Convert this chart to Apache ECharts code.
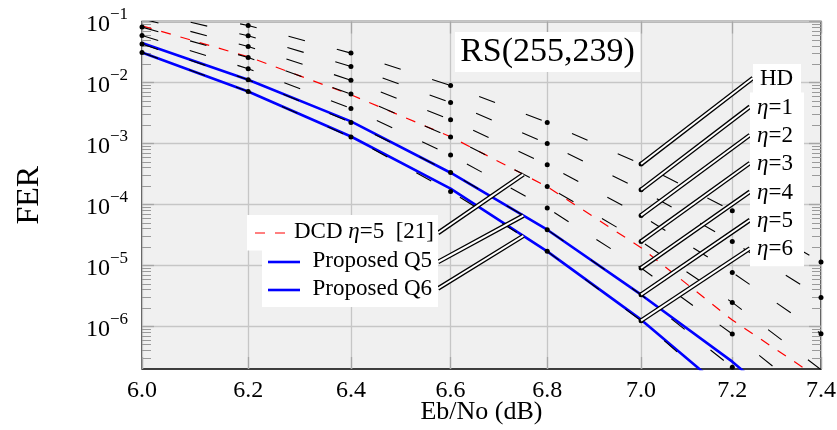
<!DOCTYPE html>
<html><head><meta charset="utf-8">
<script src="https://cdn.jsdelivr.net/npm/echarts@6/dist/echarts.min.js"></script>
<style>html,body{margin:0;padding:0;background:#fff}#c{width:837px;height:430px}</style>
</head><body><div id="c"></div>
<script>
// ---- data ----
const xValues = [6.0, 6.2, 6.4, 6.6, 6.8, 7.0, 7.2, 7.4];
const xTickLabels = ['6.0', '6.2', '6.4', '6.6', '6.8', '7.0', '7.2', '7.4'];
const yTickValues = [1e-6, 1e-5, 1e-4, 1e-3, 1e-2, 1e-1];
const yTickExponents = ['−6', '−5', '−4', '−3', '−2', '−1'];

const hd   = [0.19, 0.0860, 0.0303, 8.93e-3, 2.21e-3, 4.59e-4, 7.88e-5, 1.14e-5];
const eta1 = [0.15, 0.0583, 0.0183, 4.70e-3, 1.00e-3, 1.74e-4, 2.47e-5, 2.99e-6];
const eta2 = [0.111, 0.0389, 0.0109, 2.45e-3, 4.48e-4, 6.61e-5, 7.67e-6, 7.59e-7];
const eta3 = [0.0809, 0.0257, 6.46e-3, 1.27e-3, 1.97e-4, 2.47e-5, 2.47e-6, 1.95e-7];
const eta4 = [0.0589, 0.0168, 3.75e-3, 6.46e-4, 8.73e-5, 9.06e-6, 7.50e-7, 5.2e-8];
const eta5 = [0.0427, 0.0111, 2.21e-3, 3.35e-4, 3.85e-5, 3.31e-6, 2.13e-7, 1.15e-8];
const eta6 = [0.0310, 7.12e-3, 1.27e-3, 1.63e-4, 1.70e-5, 1.24e-6, 6.3e-8];
const dcd  = [0.0851, 0.0264, 6.28e-3, 1.29e-3, 1.95e-4, 1.95e-5, 1.27e-6, 1.34e-7];
const q5   = [0.0443, 0.0111, 2.30e-3, 3.31e-4, 3.85e-5, 3.31e-6, 2.64e-7, 1.5e-8];
const q6   = [0.0310, 7.12e-3, 1.30e-3, 1.81e-4, 1.70e-5, 1.29e-6, 7e-8];

const etaNames = ['HD', 'η=1', 'η=2', 'η=3', 'η=4', 'η=5', 'η=6'];
const etaSeries = [hd, eta1, eta2, eta3, eta4, eta5, eta6];
const legendNames = ['DCD η=5 [21]', 'Proposed Q5', 'Proposed Q6'];
const pinX = 7.0;       // curve labels point at this Eb/No
const legendPinX = 6.75; // legend entries point at this Eb/No

// ---- helpers ----
const FONT = 'Liberation Serif';
const pairs = arr => arr.map((v, i) => [xValues[i], v]);
function valueAt(arr, x) { // straight segment in log-log space (same as drawn)
  for (let i = 0; i < arr.length - 1; i++) {
    if (x >= xValues[i] && x <= xValues[i + 1]) {
      const t = (Math.log(x) - Math.log(xValues[i])) / (Math.log(xValues[i + 1]) - Math.log(xValues[i]));
      return Math.exp(Math.log(arr[i]) + t * (Math.log(arr[i + 1]) - Math.log(arr[i])));
    }
  }
  return arr[arr.length - 1];
}
const minorValues = [];
for (let e = -7; e <= -2; e++) for (let m = 2; m <= 9; m++) {
  const v = m * Math.pow(10, e);
  if (v > 2.01e-7 && v < 0.1) minorValues.push(v);
}

const chart = echarts.init(document.getElementById('c'), null, {renderer: 'canvas'});

const tickGrey = '#a6a6a6';
const gridGrey = '#c6c6c6';
function xAxisDef(pos, labels) {
  return {
    type: 'log', logBase: 10, min: 6.0, max: 7.4, position: pos, gridIndex: 0,
    axisLine: {show: false},
    axisTick: {show: true, inside: true, length: 12, customValues: xValues, lineStyle: {color: tickGrey, width: 1.3}},
    axisLabel: labels ? {
      show: true, customValues: xValues, margin: 10, color: '#000', fontFamily: FONT, fontSize: 24,
      formatter: v => { const i = xValues.findIndex(x => Math.abs(x - v) < 1e-6); return i >= 0 ? xTickLabels[i] : ''; }
    } : {show: false},
    splitLine: {show: labels, lineStyle: {color: gridGrey, width: 1.3}},
    name: labels ? 'Eb/No (dB)' : '', nameLocation: 'middle', nameGap: 30, nameMoveOverlap: false,
    nameTextStyle: {fontFamily: FONT, fontSize: 26, color: '#000'}
  };
}
function yAxisDef(pos, major, labels) {
  return {
    type: 'log', logBase: 10, min: 2e-7, max: 0.1, position: pos, gridIndex: 0,
    axisLine: {show: false},
    axisTick: {show: true, inside: true, length: major ? 12 : 9, customValues: major ? yTickValues : minorValues,
      lineStyle: {color: major ? tickGrey : '#9a9a9a', width: major ? 1.3 : 1}},
    axisLabel: labels ? {
      show: true, customValues: yTickValues, margin: 14, color: '#000',
      formatter: v => { const i = yTickValues.findIndex(y => Math.abs(Math.log10(y) - Math.log10(v)) < 1e-6); return i >= 0 ? '{b|10}{s|' + yTickExponents[i] + '}' : ''; },
      rich: {
        b: {fontFamily: FONT, fontSize: 24, lineHeight: 30, verticalAlign: 'bottom', color: '#000'},
        s: {fontFamily: FONT, fontSize: 17, lineHeight: 17, verticalAlign: 'top', color: '#000'}
      }
    } : {show: false},
    splitLine: {show: labels, lineStyle: {color: gridGrey, width: 1.3}},
    name: labels ? 'FER' : '', nameLocation: 'middle', nameGap: 96,
    nameTextStyle: {fontFamily: FONT, fontSize: 32, color: '#000'}
  };
}

const series = [];
// blue proposed curves
series.push({name: legendNames[1], type: 'line', data: pairs(q5), symbol: 'none', z: 2,
  lineStyle: {color: '#0000ff', width: 2.6}, clip: true});
series.push({name: legendNames[2], type: 'line', data: pairs(q6), symbol: 'none', z: 2,
  lineStyle: {color: '#0000ff', width: 2.6}, clip: true});
// red DCD
series.push({name: legendNames[0], type: 'line', data: pairs(dcd), symbol: 'none', z: 3,
  lineStyle: {color: '#ff0000', width: 1.2, type: [10, 10]}, clip: true});
// black dashed eta curves
etaSeries.forEach((arr, k) => {
  series.push({name: etaNames[k], type: 'line', data: pairs(arr), z: 3, clip: true,
    symbol: 'circle', symbolSize: 5, itemStyle: {color: '#000'},
    lineStyle: {color: '#000', width: 1.1, type: [17, 33]}});
});

// pins (double lines: black outer, white inner)
const labelAnchors = [[753, 78], [750, 106.7], [750, 135], [750, 163], [750, 191.7], [750, 220], [750, 248.3]];
const legendAnchors = [[438, 233], [438, 262], [438, 288.5]];
const pinData = [];
function addPin(coord, px) {
  pinData.push([{coord: coord, lineStyle: {color: '#000', width: 4.6, type: 'solid'}}, {x: px[0], y: px[1]}]);
  pinData.push([{coord: coord, lineStyle: {color: '#fff', width: 2, type: 'solid'}}, {x: px[0], y: px[1]}]);
}
etaSeries.forEach((arr, k) => addPin([pinX, arr[xValues.indexOf(pinX)]], labelAnchors[k]));
[dcd, q5, q6].forEach((arr, k) => addPin([legendPinX, valueAt(arr, legendPinX)], legendAnchors[k]));
series.push({name: 'pins', type: 'line', data: [], z: 6, silent: true,
  markLine: {silent: true, symbol: ['none', 'none'], animation: false, label: {show: false},
    emphasis: {disabled: true}, data: pinData}});

const richEta = {
  t: {fontFamily: FONT, fontSize: 23, color: '#000'},
  i: {fontFamily: FONT, fontSize: 23, fontStyle: 'italic', color: '#000'},
  c: {fontFamily: FONT, fontSize: 23, color: '#1f7bbf'}
};
function etaRich(name) {
  return name.startsWith('η') ? '{i|η}{t|' + name.slice(1) + '}' : '{t|' + name + '}';
}
const graphics = [
  // RS box
  {type: 'rect', z: 100, shape: {x: 455, y: 32, width: 185, height: 40}, style: {fill: '#fff'}},
  {type: 'text', z: 101, style: {x: 547.5, y: 52, text: 'RS(255,239)', align: 'center', verticalAlign: 'middle',
    font: '34px "' + FONT + '"', fill: '#000'}},
  // label boxes
  {type: 'rect', z: 100, shape: {x: 753, y: 64, width: 48, height: 29}, style: {fill: '#fff'}},
  {type: 'rect', z: 100, shape: {x: 750, y: 92.5, width: 54, height: 174}, style: {fill: '#fff'}},
  // legend boxes
  {type: 'rect', z: 100, shape: {x: 247, y: 215, width: 191, height: 35.5}, style: {fill: '#fff'}},
  {type: 'rect', z: 100, shape: {x: 262, y: 250, width: 176, height: 57}, style: {fill: '#fff'}},
  {type: 'line', z: 101, shape: {x1: 255, y1: 233, x2: 287, y2: 233}, style: {stroke: '#ff0000', lineWidth: 1.2, lineDash: [10, 10]}},
  {type: 'line', z: 101, shape: {x1: 268, y1: 262, x2: 300, y2: 262}, style: {stroke: '#0000ff', lineWidth: 2.6}},
  {type: 'line', z: 101, shape: {x1: 268, y1: 290, x2: 300, y2: 290}, style: {stroke: '#0000ff', lineWidth: 2.6}},
  {type: 'text', z: 101, style: {x: 434, y: 232, align: 'right', verticalAlign: 'middle',
    text: '{t|DCD }{i|η}{t|=5  [}{c|21}{t|]}', rich: richEta}},
  {type: 'text', z: 101, style: {x: 432, y: 261, align: 'right', verticalAlign: 'middle',
    text: '{t|' + legendNames[1] + '}', rich: richEta}},
  {type: 'text', z: 101, style: {x: 432, y: 289, align: 'right', verticalAlign: 'middle',
    text: '{t|' + legendNames[2] + '}', rich: richEta}}
];
etaNames.forEach((n, k) => {
  graphics.push({type: 'text', z: 101, style: {x: k === 0 ? 760 : 757, y: labelAnchors[k][1] + 1, align: 'left', verticalAlign: 'middle',
    text: etaRich(n), rich: richEta}});
});

chart.setOption({
  animation: false,
  backgroundColor: '#fff',
  grid: {left: 142, right: 16, top: 21.5, bottom: 61, show: true, backgroundColor: '#f0f0f0',
    borderColor: '#000', borderWidth: 1.3, containLabel: false, outerBoundsMode: 'none'},
  xAxis: [xAxisDef('bottom', true), xAxisDef('top', false)],
  yAxis: [yAxisDef('left', true, true), yAxisDef('left', false, false), yAxisDef('right', true, false), yAxisDef('right', false, false)],
  series: series,
  graphic: graphics
});
</script></body></html>
